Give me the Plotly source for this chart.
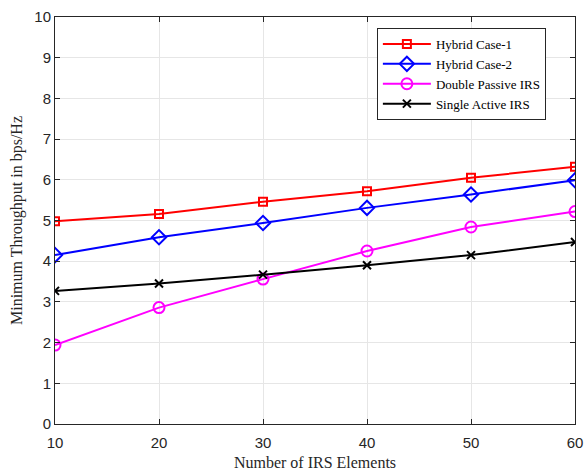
import plotly.graph_objects as go

x_vals = [10, 20, 30, 40, 50, 60]
hybrid1 = [4.98, 5.16, 5.46, 5.72, 6.05, 6.32]
hybrid2 = [4.15, 4.59, 4.94, 5.31, 5.64, 5.99]
double_passive = [1.94, 2.86, 3.56, 4.25, 4.84, 5.22]
single_active = [3.27, 3.45, 3.67, 3.90, 4.15, 4.47]

series = [
    ("Hybrid Case-1", hybrid1, "#ff0000", "square-open", 8),
    ("Hybrid Case-2", hybrid2, "#0000ff", "diamond-open", 11),
    ("Double Passive IRS", double_passive, "#ff00ff", "circle-open", 11),
    ("Single Active IRS", single_active, "#000000", "x-thin-open", 8),
]

fig = go.Figure()
for name, vals, color, sym, size in series:
    fig.add_trace(go.Scatter(
        x=x_vals, y=vals, name=name, mode="lines+markers",
        line=dict(color=color, width=2),
        marker=dict(symbol=sym, size=size, color=color, line=dict(width=2, color=color)),
    ))

axis_common = dict(
    showline=True, linecolor="#262626", linewidth=1, mirror="ticks",
    ticks="inside", ticklen=5, tickcolor="#262626",
    showgrid=True, gridcolor="#e6e6e6", gridwidth=1, zeroline=False,
    tickfont=dict(family="Liberation Sans, Arial", size=15, color="#262626"),
    ticklabeloverflow="allow",
)

title_font = dict(family="Liberation Serif, Times New Roman", size=16, color="#262626")
fig.update_xaxes(range=[10, 60], dtick=10, **axis_common, ticklabelstandoff=5,
                 automargin=False,
                 title=dict(text="Number of IRS Elements", font=title_font))
fig.update_yaxes(range=[0, 10], dtick=1, **axis_common, automargin=True,
                 title=dict(text="Minimum Throughput in bps/Hz", standoff=7, font=title_font))

fig.update_layout(
    width=584, height=471,
    margin=dict(l=55, r=8, t=15, b=47),
    plot_bgcolor="white", paper_bgcolor="white",
    legend=dict(x=0.619, y=0.973, xanchor="left", yanchor="top",
                bgcolor="white", bordercolor="#262626", borderwidth=1,
                font=dict(family="Liberation Serif, Times New Roman", size=13, color="#000000"),
                tracegroupgap=0, itemwidth=48),
    showlegend=True,
)

fig.write_html("out.html")
